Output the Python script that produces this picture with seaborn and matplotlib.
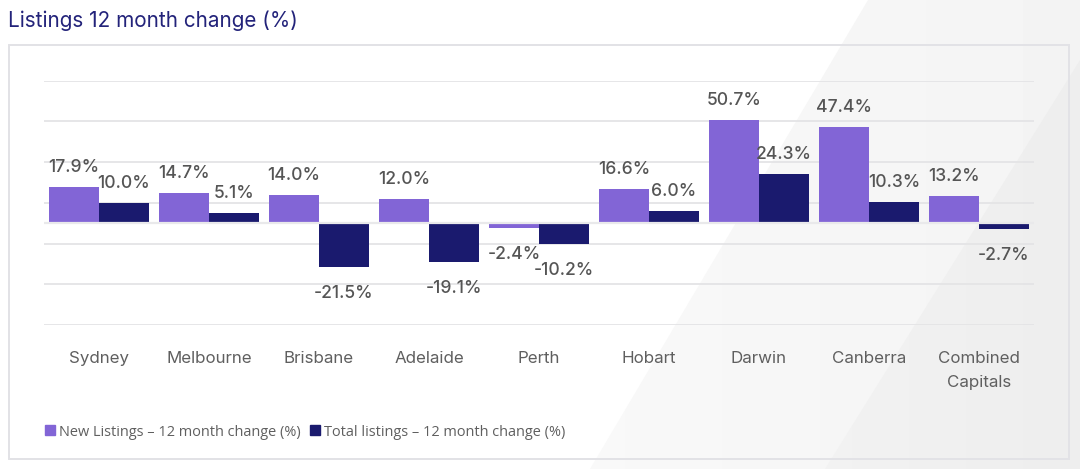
import matplotlib
matplotlib.use("Agg")
import matplotlib.pyplot as plt
from matplotlib.patches import Polygon, Rectangle
from matplotlib.lines import Line2D
import numpy as np
import pandas as pd
import seaborn as sns

cities = ["Sydney", "Melbourne", "Brisbane", "Adelaide", "Perth", "Hobart",
          "Darwin", "Canberra", "Combined\nCapitals"]
new_listings = [17.9, 14.7, 14.0, 12.0, -2.4, 16.6, 50.7, 47.4, 13.2]
total_listings = [10.0, 5.1, -21.5, -19.1, -10.2, 6.0, 24.3, 10.3, -2.7]
series_names = ["New Listings – 12 month change (%)", "Total listings – 12 month change (%)"]
grid_ticks = [-50, -30, -10, 10, 30, 50, 70]
title = "Listings 12 month change (%)"

PURPLE = "#8265d6"
NAVY = "#1a1a6e"
W, H = 1080, 469

sns.set_theme(style="white")
plt.rcParams["font.family"] = ["Inter", "DejaVu Sans"]

df = pd.DataFrame({
    "city": cities * 2,
    "value": new_listings + total_listings,
    "series": [series_names[0]] * len(cities) + [series_names[1]] * len(cities),
})

fig = plt.figure(figsize=(W / 100, H / 100), dpi=100, facecolor="white")

# page background: pale diagonal bands with a soft shading, and the panel frame
bg = fig.add_axes([0, 0, 1, 1], zorder=0)
bg.set_xlim(0, W); bg.set_ylim(H, 0); bg.axis("off")


def shaded_band(corners, light, dark):
    """Fill a polygon with a left-to-right grey shading."""
    ramp = np.linspace(light, dark, 64).reshape(1, -1)
    img = bg.imshow(ramp, extent=(560, W, H, 0), cmap="gray", vmin=0, vmax=1,
                    aspect="auto", zorder=0)
    clip = Polygon(corners, transform=bg.transData, fc="none", ec="none")
    bg.add_patch(clip)
    img.set_clip_path(clip)


shaded_band([(868, 0), (W, 0), (W, H), (590, H)], 0.975, 0.955)
shaded_band([(W, 60), (W, H), (825, H)], 0.965, 0.93)
bg.set_xlim(0, W); bg.set_ylim(H, 0)
bg.add_patch(Rectangle((9, 45.5), 1060, 414, fc="none", ec="#e2e2e6", lw=1.4, zorder=2))

ax = fig.add_axes([44 / W, 1 - 325 / H, 990 / W, (325 - 80.5) / H], zorder=1)
ax.patch.set_alpha(0)

sns.barplot(data=df, x="city", y="value", hue="series", order=cities,
            hue_order=series_names, palette=[PURPLE, NAVY], width=0.91, gap=0,
            saturation=1, linewidth=0, ax=ax, zorder=3)

ax.set_xlim(-0.5, len(cities) - 0.5)
ax.set_ylim(-50, 70)
ax.set_yticks(grid_ticks)
ax.tick_params(axis="y", left=False, labelleft=False)
ax.tick_params(axis="x", bottom=False, pad=13, labelsize=12.2, labelcolor="#5f5f5f")
for lab in ax.get_xticklabels():
    lab.set_linespacing(1.75)
    lab.set_va("top")
ax.set_xlabel(""); ax.set_ylabel("")
ax.grid(axis="y", color="#e4e4e6", lw=1.3, zorder=1)
ax.set_axisbelow(True)
ax.axhline(0, color="#e9e9eb", lw=1.6, zorder=4)
for s in ax.spines.values():
    s.set_visible(False)

for container in ax.containers:
    for bar, val in zip(container, container.datavalues):
        x = bar.get_x() + bar.get_width() / 2
        above = val >= 0
        ax.annotate(f"{val:.1f}%", (x, val), xytext=(0, 14 if above else -19),
                    textcoords="offset points", ha="center", va="center",
                    fontsize=12.6, fontweight="medium", color="#555555", zorder=5,
                    annotation_clip=False)

handles = [Line2D([], [], marker="s", ls="", ms=6.5, color=c) for c in (PURPLE, NAVY)]
ax.legend(handles, series_names, loc="center left", frameon=False, ncol=2,
          bbox_to_anchor=(43 / W, 1 - 432 / H), bbox_transform=fig.transFigure,
          handlelength=1.0, handletextpad=0.12, columnspacing=0.5, borderpad=0, borderaxespad=0,
          prop={"family": "Open Sans", "size": 10.45}, labelcolor="#5f5f5f")

fig.text(8 / W, 1 - 21 / H, title, fontsize=14.9, color="#23237a", va="center", ha="left")

fig.savefig("out.png", dpi=100)
